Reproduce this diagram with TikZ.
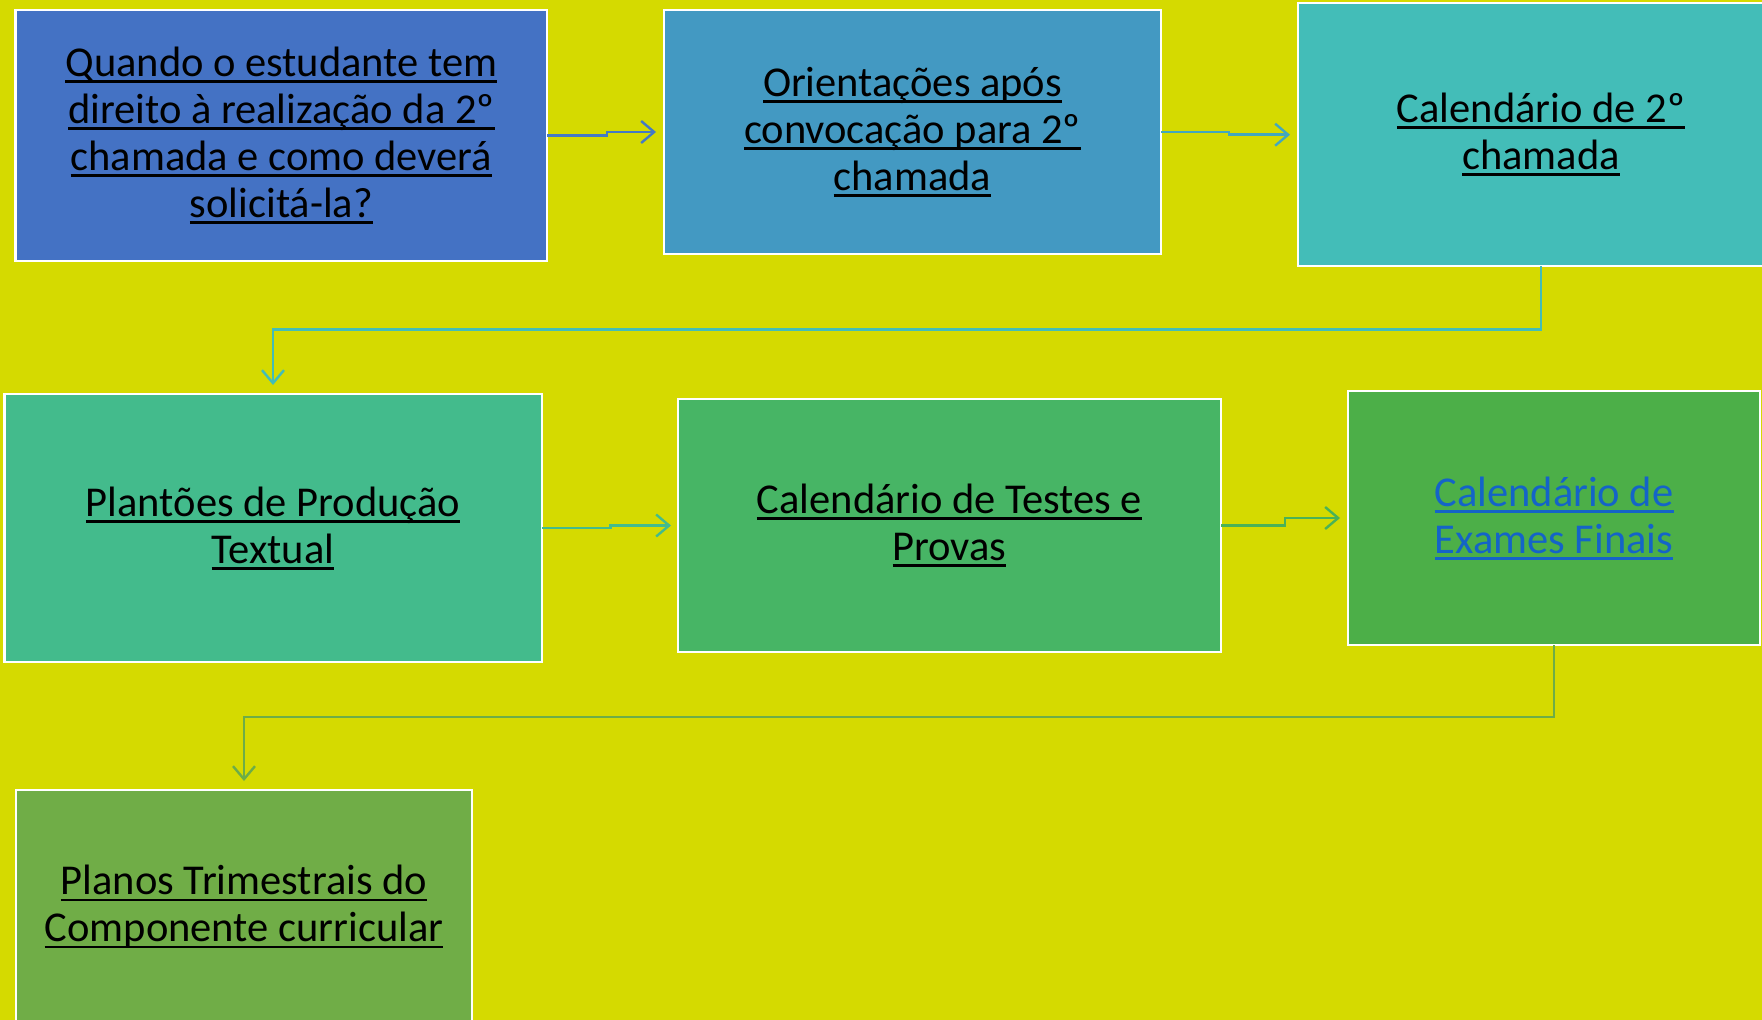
\documentclass[tikz,border=0pt]{standalone}
\usepackage{fontspec}
\setmainfont{Carlito}
\usetikzlibrary{arrows.meta}
\definecolor{bg}{HTML}{D5DA00}
\definecolor{cA}{HTML}{4472C4}
\definecolor{cB}{HTML}{4399C2}
\definecolor{cC}{HTML}{43BDB8}
\definecolor{cD}{HTML}{43BB8C}
\definecolor{cE}{HTML}{47B565}
\definecolor{cF}{HTML}{4CAF48}
\definecolor{cG}{HTML}{70AD47}
\definecolor{lnk}{HTML}{1464C8}
\newcommand\ulx[1]{\setbox0\hbox{#1}\rlap{\rule[-6.5pt]{\wd0}{2.8pt}}\box0}
\tikzset{
  boxnode/.style={draw=white, line width=2.5pt, inner sep=0pt, outer sep=0pt,
    align=center, font=\fontsize{42.5}{47}\selectfont, text=black},
  conn/.style={line width=2.6pt, -{Straight Barb[length=13pt,width=22pt,line width=2.4pt]}},
}
\begin{document}
\begin{tikzpicture}[x=1pt,y=-1pt]
\fill[bg] (0,0) rectangle (1762,1020);
\useasboundingbox (0,0) rectangle (1762,1020);
\begin{scope}
\clip (0,0) rectangle (1762,1020);
\node[boxnode, fill=cA, minimum width=531.5pt, minimum height=251pt] (b1) at (281.4,135.5)
  {\ulx{Quando o estudante tem}\\\ulx{direito à realização da 2º}\\\ulx{chamada e como deverá}\\\ulx{solicitá-la?}};
\node[boxnode, fill=cB, minimum width=497pt, minimum height=244pt] (b2) at (912.5,132)
  {\ulx{Orientações após}\\\ulx{convocação para 2º}\\\ulx{chamada}};
\node[boxnode, fill=cC, minimum width=486pt, minimum height=263pt] (b3) at (1541,134.7)
  {\ulx{Calendário de 2º}\\\ulx{chamada}};
\node[boxnode, fill=cD, minimum width=537.5pt, minimum height=268pt] (b4) at (273,528)
  {\ulx{Plantões de Produção}\\\ulx{Textual}};
\node[boxnode, fill=cE, minimum width=543pt, minimum height=253pt] (b5) at (949.5,525.5)
  {\ulx{Calendário de Testes e}\\\ulx{Provas}};
\node[boxnode, fill=cF, minimum width=412pt, minimum height=254pt, text=lnk] (b6) at (1554,518)
  {\ulx{Calendário de}\\\ulx{Exames Finais}};
\node[boxnode, fill=cG, minimum width=456pt, minimum height=234pt] (b7) at (244,907)
  {\ulx{Planos Trimestrais do}\\\ulx{Componente curricular}};
\end{scope}
\draw[conn, draw=cA!80!cB] (b1.east) -- ++(60,0) |- ([xshift=-8pt]b2.west);
\draw[conn, draw=cB!60!cC] (b2.east) -- ++(68,0) |- ([xshift=-8pt]b3.west);
\draw[conn, draw=cC] (b3.south) -- ++(0,63) -| ([yshift=9pt]b4.north);
\draw[conn, draw=cD] (b4.east) -- ++(69,0) |- ([xshift=-7pt]b5.west);
\draw[conn, draw=cE!50!cF] (b5.east) -- ++(64,0) |- ([xshift=-8pt]b6.west);
\draw[conn, draw=cG!90!cF] (b6.south) -- ++(0,72) -| ([yshift=9pt]b7.north);
\end{tikzpicture}
\end{document}
